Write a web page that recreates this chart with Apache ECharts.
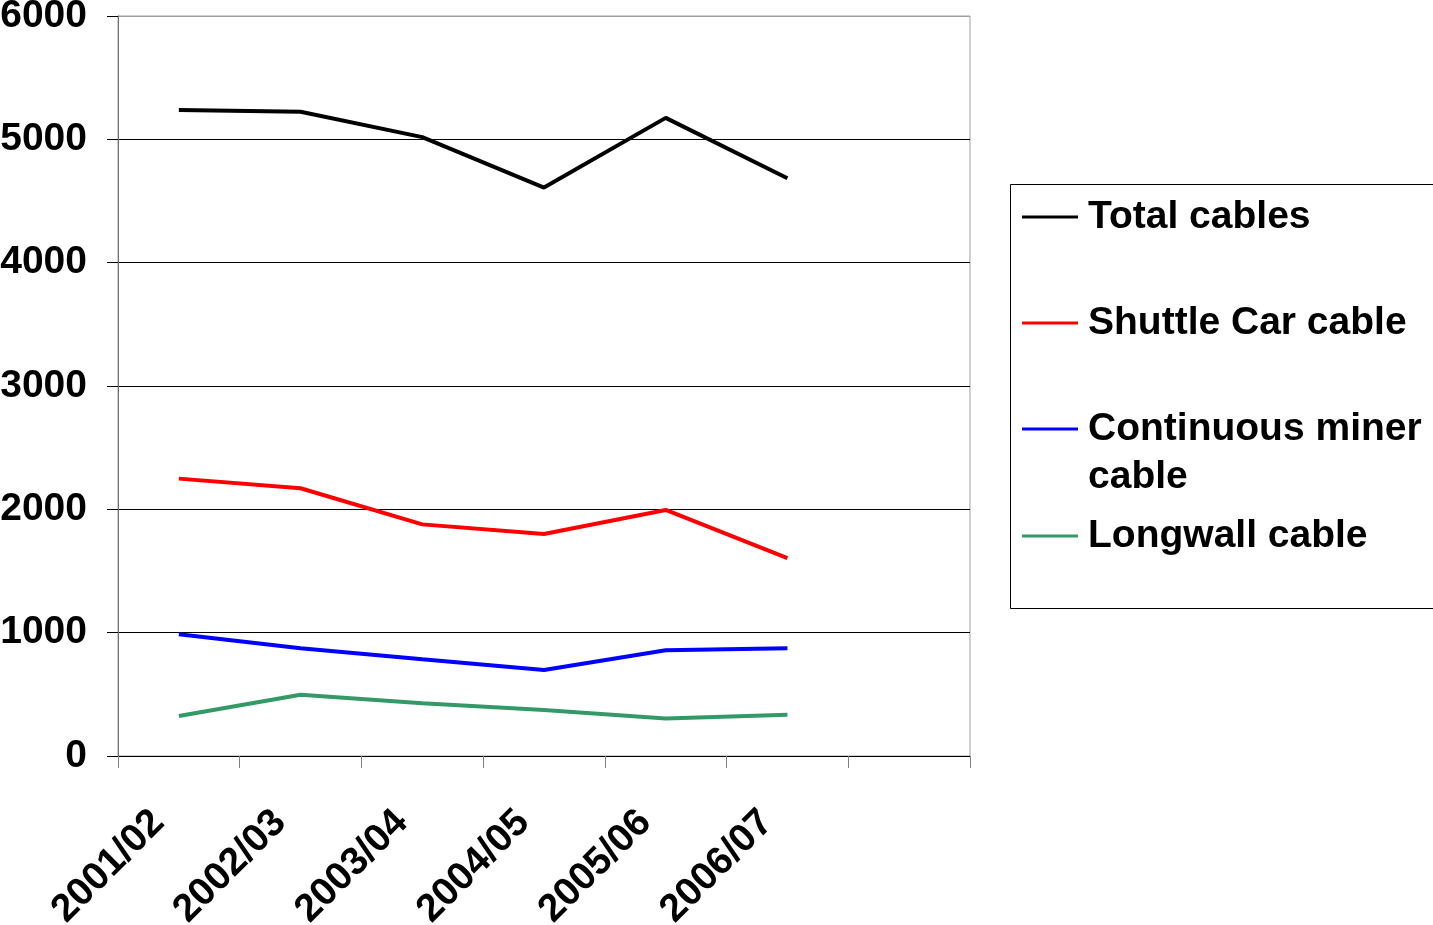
<!DOCTYPE html>
<html>
<head>
<meta charset="utf-8">
<script src="https://cdn.jsdelivr.net/npm/echarts@6/dist/echarts.min.js"></script>
<style>
html,body{margin:0;padding:0;background:#fff;}
#chart{width:1433px;height:925px;}
</style>
</head>
<body>
<div id="chart"></div>
<script>
const categories = ['2001/02', '2002/03', '2003/04', '2004/05', '2005/06', '2006/07', ''];
const totalCables = [5237, 5223, 5018, 4609, 5174, 4685];
const shuttleCar = [2249, 2171, 1878, 1800, 1995, 1604];
const continuousMiner = [987, 874, 784, 697, 857, 874];
const longwall = [324, 497, 427, 373, 305, 335];
const yTicks = [0, 1000, 2000, 3000, 4000, 5000, 6000];

const FONT = '"Liberation Sans", Arial, sans-serif';
const chart = echarts.init(document.getElementById('chart'), null, {renderer: 'canvas'});

function mkSeries(name, data, color) {
  return {
    name: name, type: 'line', data: data, symbol: 'none', smooth: false,
    lineStyle: {color: color, width: 4}, itemStyle: {color: color},
    emphasis: {disabled: true}, animation: false
  };
}

const legendText = {fontFamily: FONT, fontWeight: 'bold', fontSize: 39, color: '#000', lineHeight: 48, padding: [0, 0, 0, 5]};

function mkLegend(name, top, extra) {
  return Object.assign({
    data: [name], orient: 'vertical', left: 1022, top: top, padding: 0,
    icon: 'rect', itemWidth: 56, itemHeight: 3, selectedMode: false,
    textStyle: legendText
  }, extra || {});
}

chart.setOption({
  animation: false,
  backgroundColor: '#fff',
  grid: {left: 118, top: 16, right: 463, bottom: 169, show: true, borderColor: '#a0a0a0', borderWidth: 1, containLabel: false, outerBoundsMode: 'none'},
  xAxis: {
    type: 'category', data: categories, boundaryGap: true,
    axisLine: {show: true, lineStyle: {color: '#000', width: 1}},
    axisTick: {show: true, length: 12, lineStyle: {color: '#808080'}},
    axisLabel: {rotate: 45, margin: 40, interval: 0, padding: [0, 29, 0, 0], fontFamily: FONT, fontWeight: 'bold', fontSize: 39, color: '#000'},
    splitLine: {show: false}
  },
  yAxis: {
    type: 'value', min: yTicks[0], max: yTicks[yTicks.length - 1], interval: 1000,
    axisLine: {show: true, lineStyle: {color: '#707070', width: 1}},
    axisTick: {show: true, length: 11, lineStyle: {color: '#000'}},
    axisLabel: {margin: 31, formatter: function (v) { return String(v); }, fontFamily: FONT, fontWeight: 'bold', fontSize: 39, color: '#000'},
    splitLine: {show: true, lineStyle: {color: ['#000', '#000', '#000', '#000', '#000', '#000', '#a0a0a0'], width: 1}}
  },
  legend: [
    mkLegend('Total cables', 216 - 23),
    mkLegend('Shuttle Car cable', 322 - 23),
    mkLegend('Continuous miner cable', 428 - 71, {
      formatter: function () { return ' \nContinuous miner\ncable'; }
    }),
    mkLegend('Longwall cable', 535 - 23)
  ],
  graphic: [{
    type: 'rect', left: 1010, top: 184, z: -1,
    shape: {width: 440, height: 424},
    style: {fill: '#fff', stroke: '#000', lineWidth: 1}
  }],
  series: [
    mkSeries('Total cables', totalCables, '#000000'),
    mkSeries('Shuttle Car cable', shuttleCar, '#ff0000'),
    mkSeries('Continuous miner cable', continuousMiner, '#0000ff'),
    mkSeries('Longwall cable', longwall, '#339966')
  ]
});
</script>
</body>
</html>
